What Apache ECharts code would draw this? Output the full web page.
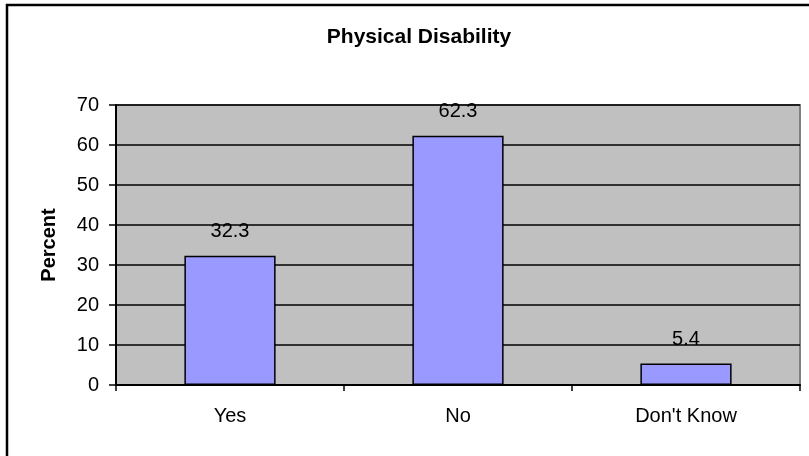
<!DOCTYPE html>
<html>
<head>
<meta charset="utf-8">
<script src="https://cdn.jsdelivr.net/npm/echarts@6/dist/echarts.min.js"></script>
<style>
html,body{margin:0;padding:0;background:#fff;}
#c{width:809px;height:456px;}
</style>
</head>
<body>
<div id="c"></div>
<script>
const title = 'Physical Disability';
const categories = ['Yes', 'No', "Don't Know"];
const percentValues = [32.3, 62.3, 5.4];
const yTicks = {min: 0, max: 70, interval: 10};
const yName = 'Percent';

const FONT = '"Liberation Sans", Arial, sans-serif';
const chart = echarts.init(document.getElementById('c'), null, {renderer: 'canvas'});
chart.setOption({
  animation: false,
  backgroundColor: '#fff',
  title: {
    text: title,
    left: 414, top: 22, textAlign: 'center',
    textStyle: {fontFamily: FONT, fontWeight: 'bold', fontSize: 21, color: '#000'}
  },
  graphic: [{
    type: 'rect', silent: true,
    shape: {x: 7, y: 5, width: 900, height: 600},
    style: {fill: 'none', stroke: '#000', lineWidth: 2.5}
  }],
  grid: {
    left: 116, right: 9, top: 105, bottom: 71,
    show: true, backgroundColor: '#C0C0C0', borderColor: '#808080', borderWidth: 2
  },
  xAxis: {
    type: 'category',
    data: categories,
    axisLine: {lineStyle: {color: '#000', width: 2}},
    axisTick: {show: true, length: 6, lineStyle: {color: '#000', width: 1.5}},
    axisLabel: {margin: 21, fontFamily: FONT, fontSize: 20, color: '#000'}
  },
  yAxis: {
    type: 'value',
    min: yTicks.min, max: yTicks.max, interval: yTicks.interval,
    name: yName, nameLocation: 'middle', nameGap: 57, nameRotate: 90,
    nameTextStyle: {fontFamily: FONT, fontWeight: 'bold', fontSize: 20, color: '#000'},
    axisLine: {show: true, lineStyle: {color: '#000', width: 2}},
    axisTick: {show: true, length: 7, lineStyle: {color: '#000', width: 1.5}},
    axisLabel: {margin: 17, fontFamily: FONT, fontSize: 20, color: '#000'},
    splitLine: {show: true, lineStyle: {color: '#000', width: 1.5}}
  },
  series: [{
    type: 'bar',
    data: percentValues,
    barWidth: '40%',
    itemStyle: {color: '#9999FF', borderColor: '#000', borderWidth: 1.5},
    label: {show: true, position: 'top', distance: 14, fontFamily: FONT, fontSize: 20, color: '#000'}
  }]
});
</script>
</body>
</html>
